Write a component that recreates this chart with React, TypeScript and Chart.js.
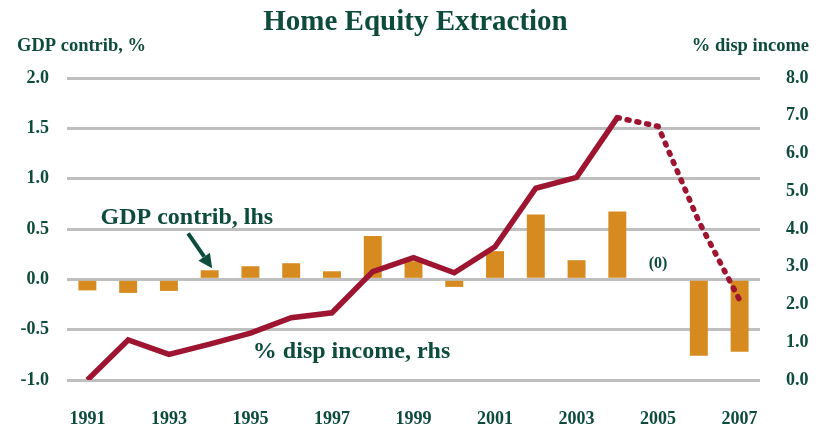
import React, { useEffect, useRef } from "react";
import { Chart, registerables } from "chart.js";

Chart.register(...registerables);

// ---- data ----
const years = ["1991","1992","1993","1994","1995","1996","1997","1998","1999","2000","2001","2002","2003","2004","2005","2006","2007"];
const gdpContrib = [-0.11,-0.135,-0.115,0.09,0.13,0.16,0.08,0.43,0.18,-0.075,0.28,0.645,0.19,0.675,0,-0.76,-0.72];
const dispIncome = [0.0,1.06,0.68,0.95,1.24,1.65,1.78,2.87,3.24,2.84,3.53,5.08,5.37,6.95,6.72,4.2,2.12];
const projectedFrom = 13; // index of 2004: line is dotted from here on
const titleText = "Home Equity Extraction";
const leftAxisTitle = "GDP contrib, %";
const rightAxisTitle = "% disp income";
const gdpLabel = "GDP contrib, lhs";
const incomeLabel = "% disp income, rhs";
const zeroLabel = "(0)";

const GREEN = "#0d4b3b";
const BAR = "#d68a1f";
const LINE = "#9d1531";
const GRID = "#bfbfbf";
const FONT = "'Liberation Serif', 'Times New Roman', serif";

const solidLine = dispIncome.map((v, i) => (i <= projectedFrom ? v : null));
const dottedLine = dispIncome.map((v, i) => (i >= projectedFrom ? v : null));

const overlayPlugin = {
  id: "overlay",
  afterDatasetsDraw(chart: any) {
    const ctx = chart.ctx;
    const x = chart.scales.x;
    const yl = chart.scales.y;
    const yr = chart.scales.y1;
    ctx.save();
    ctx.fillStyle = GREEN;
    ctx.strokeStyle = GREEN;

    // title
    ctx.font = `bold 29px ${FONT}`;
    ctx.textAlign = "center";
    ctx.textBaseline = "alphabetic";
    ctx.fillText(titleText, 415.5, 30);

    // axis titles
    ctx.font = `bold 18.5px ${FONT}`;
    ctx.textAlign = "left";
    ctx.fillText(leftAxisTitle, 17, 51);
    ctx.textAlign = "right";
    ctx.fillText(rightAxisTitle, 809, 51);

    // annotation labels
    ctx.font = `bold 24px ${FONT}`;
    ctx.textAlign = "center";
    ctx.fillText(gdpLabel, x.getPixelForValue(2.44), yl.getPixelForValue(0.545));
    ctx.fillText(incomeLabel, x.getPixelForValue(6.48), yr.getPixelForValue(0.59));

    ctx.font = `bold 16px ${FONT}`;
    ctx.textBaseline = "middle";
    ctx.fillText(zeroLabel, x.getPixelForValue(14), yl.getPixelForValue(0.155));

    // arrow
    const tx = x.getPixelForValue(2.47), ty = yl.getPixelForValue(0.457);
    const hx = x.getPixelForValue(3.06), hy = yl.getPixelForValue(0.11);
    const ang = Math.atan2(hy - ty, hx - tx);
    const headLen = 14, headW = 7;
    const bx = hx - headLen * Math.cos(ang), by = hy - headLen * Math.sin(ang);
    ctx.lineWidth = 4;
    ctx.lineCap = "butt";
    ctx.beginPath();
    ctx.moveTo(tx, ty);
    ctx.lineTo(bx, by);
    ctx.stroke();
    ctx.beginPath();
    ctx.moveTo(hx, hy);
    ctx.lineTo(bx + headW * Math.sin(ang), by - headW * Math.cos(ang));
    ctx.lineTo(bx - headW * Math.sin(ang), by + headW * Math.cos(ang));
    ctx.closePath();
    ctx.fill();
    ctx.restore();
  },
};

export default function App() {
  const ref = useRef<HTMLCanvasElement | null>(null);
  useEffect(() => {
    document.body.style.margin = "0";
    const canvas = ref.current;
    if (!canvas) return;
    const chart = new Chart(canvas, {
      type: "bar",
      data: {
        labels: years,
        datasets: [
          {
            type: "line",
            label: "solid",
            data: solidLine,
            yAxisID: "y1",
            borderColor: LINE,
            borderWidth: 5.5,
            pointRadius: 0,
            fill: false,
            tension: 0,
            order: 0,
            borderJoinStyle: "miter",
          } as any,
          {
            type: "line",
            label: "dotted",
            data: dottedLine,
            yAxisID: "y1",
            borderColor: LINE,
            borderWidth: 5.5,
            borderDash: [2, 8],
            borderCapStyle: "round",
            pointRadius: 0,
            fill: false,
            tension: 0,
            order: 0,
          } as any,
          {
            type: "bar",
            label: "GDP",
            data: gdpContrib,
            yAxisID: "y",
            backgroundColor: BAR,
            borderWidth: 0,
            barPercentage: 0.44,
            categoryPercentage: 1,
            order: 1,
          },
        ],
      },
      options: {
        responsive: false,
        animation: false,
        layout: { padding: { top: 78, left: 0, right: 0, bottom: 0 } },
        plugins: { legend: { display: false }, tooltip: { enabled: false }, title: { display: false } },
        scales: {
          x: {
            offset: true,
            grid: { display: false, drawTicks: false },
            border: { display: false },
            ticks: {
              autoSkip: false,
              maxRotation: 0,
              padding: 29,
              color: GREEN,
              font: { family: FONT, size: 18, weight: "bold" },
              callback: (_v: any, i: number) => (i % 2 === 0 ? years[i] : ""),
            },
            afterFit: (s: any) => { s.height = 45; },
          },
          y: {
            position: "left",
            min: -1,
            max: 2,
            grid: { color: GRID, lineWidth: 3, drawTicks: false },
            border: { display: false },
            ticks: {
              stepSize: 0.5,
              padding: 18,
              color: GREEN,
              font: { family: FONT, size: 18, weight: "bold" },
              callback: (v: any) => Number(v).toFixed(1),
            },
            afterFit: (s: any) => { s.width = 67; },
          },
          y1: {
            position: "right",
            min: 0,
            max: 8,
            grid: { display: false, drawTicks: false },
            border: { display: false },
            ticks: {
              stepSize: 1,
              padding: 26,
              color: GREEN,
              font: { family: FONT, size: 18, weight: "bold" },
              callback: (v: any) => Number(v).toFixed(1),
            },
            afterFit: (s: any) => { s.width = 64; },
          },
        },
      } as any,
      plugins: [overlayPlugin],
    });
    return () => chart.destroy();
  }, []);
  return (
    <div style={{ width: 824, height: 425, background: "#fff" }}>
      <canvas ref={ref} width={824} height={425} />
    </div>
  );
}
